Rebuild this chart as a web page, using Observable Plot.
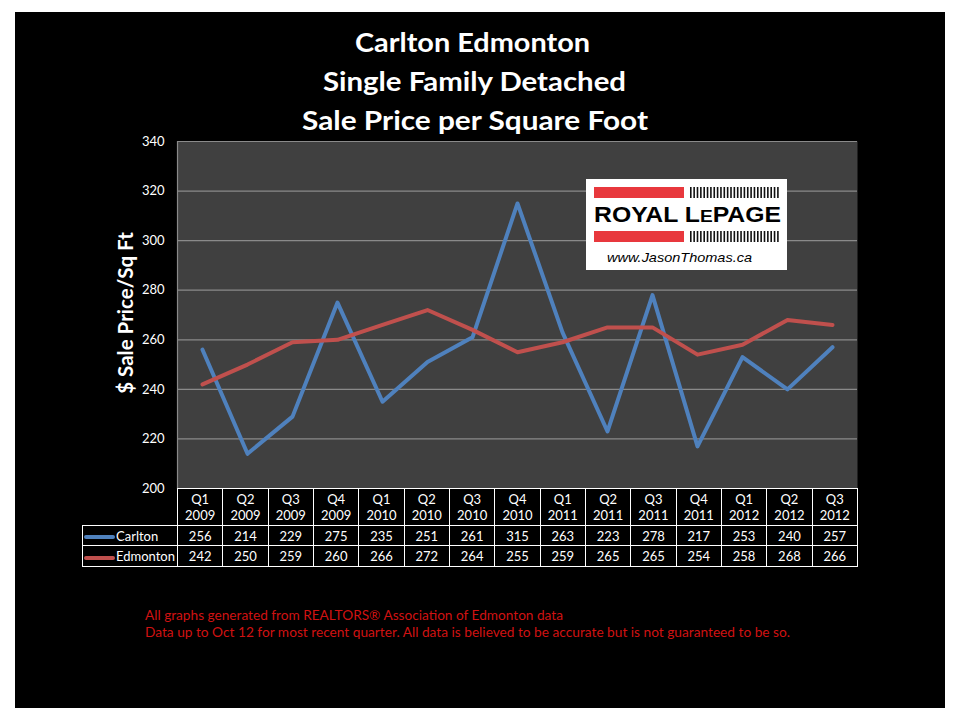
<!DOCTYPE html>
<html>
<head>
<meta charset="utf-8">
<script src="https://cdn.jsdelivr.net/npm/d3@7"></script>
<script src="https://cdn.jsdelivr.net/npm/@observablehq/plot@0.6"></script>
<style>
  html, body { margin: 0; padding: 0; background: #ffffff; }
  #page { position: relative; width: 960px; height: 720px; overflow: hidden; background: #ffffff; }
  #black { position: absolute; left: 15px; top: 12px; width: 930px; height: 696px; background: #000000; }
  .abs { position: absolute; }
  #chart { position: absolute; left: 0; top: 125px; }
  #ylabel { position: absolute; left: 125px; top: 313px; transform: translate(-50%, -50%) rotate(-90deg);
            color: #fff; font: bold 20.5px Lato, "Open Sans", sans-serif; white-space: nowrap; }
  #tbl { position: absolute; left: 82px; top: 488px; border-collapse: collapse; table-layout: fixed;
         color: #fff; font: 13px Lato, "Open Sans", sans-serif; }
  #tbl td { border: 1px solid #fff; text-align: center; padding: 0; overflow: hidden; white-space: nowrap; }
  #tbl td.blank { border: none; }
  #tbl td.leg { text-align: left; }
  .sw { display: inline-block; width: 31px; height: 4px; border-radius: 2px; vertical-align: middle; margin-right: 1px; margin-left: 1px; }
</style>
</head>
<body>
<div id="page">
  <div id="black"></div>
  <svg class="abs" style="left:0;top:0" width="960" height="140">
    <g fill="#fff" font-family="Lato, 'Open Sans', sans-serif" font-weight="bold" font-size="27" text-anchor="start">
      <text x="355" y="52" textLength="235" lengthAdjust="spacingAndGlyphs">Carlton Edmonton</text>
      <text x="323" y="91" textLength="303" lengthAdjust="spacingAndGlyphs">Single Family Detached</text>
      <text x="302" y="130" textLength="346" lengthAdjust="spacingAndGlyphs">Sale Price per Square Foot</text>
    </g>
  </svg>
  <div id="chart"></div>
  <div id="ylabel">$ Sale Price/Sq Ft</div>
  <svg id="logo" class="abs" style="left:0;top:0" width="960" height="300"></svg>
  <table id="tbl"></table>
  <svg class="abs" style="left:0;top:600px" width="960" height="50">
    <g fill="#d01212" font-family="Lato, 'Open Sans', sans-serif" font-size="13">
      <text x="145" y="20" textLength="418" lengthAdjust="spacingAndGlyphs">All graphs generated from REALTORS® Association of Edmonton data</text>
      <text x="145" y="37" textLength="645" lengthAdjust="spacingAndGlyphs">Data up to Oct 12 for most recent quarter. All data is believed to be accurate but is not guaranteed to be so.</text>
    </g>
  </svg>
</div>
<script>
// ---- data ----
const quarters = ["Q1 2009","Q2 2009","Q3 2009","Q4 2009","Q1 2010","Q2 2010","Q3 2010","Q4 2010",
                  "Q1 2011","Q2 2011","Q3 2011","Q4 2011","Q1 2012","Q2 2012","Q3 2012"];
const seriesNames = ["Carlton", "Edmonton"];
const carlton  = [256, 214, 229, 275, 235, 251, 261, 315, 263, 223, 278, 217, 253, 240, 257];
const edmonton = [242, 250, 259, 260, 266, 272, 264, 255, 259, 265, 265, 254, 258, 268, 266];
const yTicks = [200, 220, 240, 260, 280, 300, 320, 340];
const colors = ["#4f81bd", "#c0504d"];

const rows = [
  ...quarters.map((q, i) => ({q, series: "Carlton", v: carlton[i]})),
  ...quarters.map((q, i) => ({q, series: "Edmonton", v: edmonton[i]}))
];

const chart = Plot.plot({
  width: 960, height: 380,
  marginLeft: 177, marginRight: 103, marginTop: 16, marginBottom: 17,
  style: {background: "transparent", color: "#fff", fontFamily: "Lato, 'Open Sans', sans-serif", fontSize: "13px", overflow: "visible"},
  x: {type: "point", domain: quarters, padding: 0.5, axis: null},
  y: {domain: [200, 340], ticks: yTicks, label: null},
  color: {domain: seriesNames, range: colors},
  marks: [
    Plot.frame({fill: "#404040", stroke: null}),
    Plot.ruleY(yTicks.filter(d => d > 200), {stroke: "#8a8a8a", strokeWidth: 1.2}),
    Plot.frame({anchor: "left", stroke: "#8a8a8a", strokeWidth: 1.2}),
    Plot.line(rows, {x: "q", y: "v", z: "series", stroke: "series", strokeWidth: 4, strokeLinejoin: "round", strokeLinecap: "round"}),
    Plot.axisY(yTicks, {tickSize: 0, tickPadding: 13, label: null, fill: "#fff"})
  ]
});
document.getElementById("chart").appendChild(chart);

// ---- data table ----
const tbl = document.getElementById("tbl");
const colW = 680 / quarters.length;
let html = `<colgroup><col style="width:95px">${quarters.map(() => `<col style="width:${colW}px">`).join("")}</colgroup>`;
html += `<tr style="height:37px"><td class="blank"></td>${quarters.map(q => { const [a, b] = q.split(" "); return `<td style="line-height:16px">${a}<br>${b}</td>`; }).join("")}</tr>`;
const vals = [carlton, edmonton];
const rh = [20, 21];
seriesNames.forEach((s, k) => {
  html += `<tr style="height:${rh[k]}px"><td class="leg"><span class="sw" style="background:${colors[k]}"></span>${s}</td>${vals[k].map(v => `<td>${v}</td>`).join("")}</tr>`;
});
tbl.innerHTML = html;

// ---- logo (decoration) ----
const logo = d3.select("#logo");
logo.append("rect").attr("x", 586).attr("y", 179).attr("width", 201).attr("height", 91).attr("fill", "#fff");
[187, 231].forEach(y => {
  logo.append("rect").attr("x", 594).attr("y", y).attr("width", 90).attr("height", 11).attr("fill", "#e8383d");
  for (let x = 690; x <= 780; x += 3.35) {
    logo.append("rect").attr("x", x).attr("y", y).attr("width", 1.6).attr("height", 11).attr("fill", "#111");
  }
});
const t = logo.append("text").attr("x", 594).attr("y", 222).attr("fill", "#000")
  .attr("font-family", "'Liberation Sans', Arial, sans-serif").attr("font-weight", "bold").attr("font-size", 22)
  .attr("textLength", 187).attr("lengthAdjust", "spacingAndGlyphs");
t.append("tspan").text("ROYAL L");
t.append("tspan").attr("font-size", 17).text("E");
t.append("tspan").text("PAGE");
logo.append("text").attr("x", 607).attr("y", 262).attr("fill", "#000")
  .attr("font-family", "'Liberation Sans', Arial, sans-serif").attr("font-style", "italic").attr("font-size", 13)
  .attr("textLength", 145).attr("lengthAdjust", "spacingAndGlyphs").text("www.JasonThomas.ca");
</script>
</body>
</html>
